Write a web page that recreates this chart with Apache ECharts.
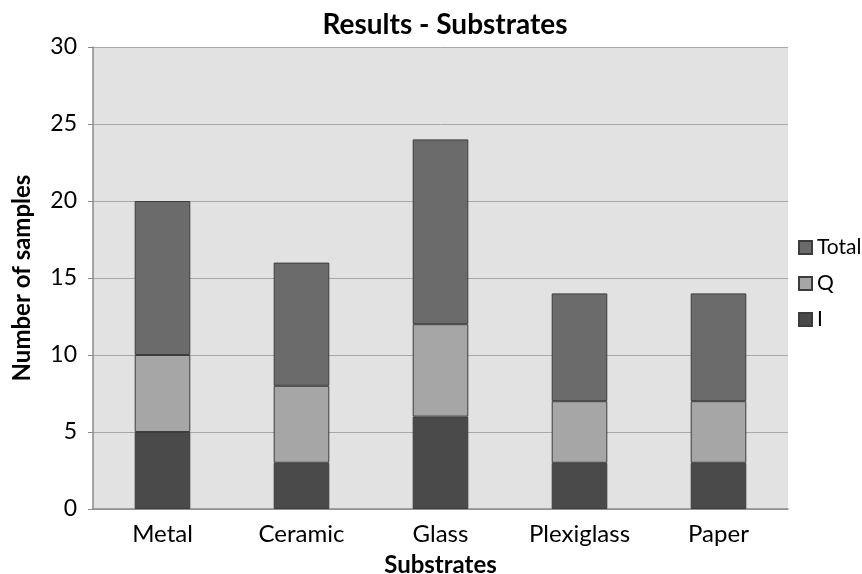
<!DOCTYPE html>
<html>
<head>
<meta charset="utf-8">
<script src="https://cdn.jsdelivr.net/npm/echarts@6/dist/echarts.min.js"></script>
<style>
html, body { margin: 0; padding: 0; background: #fff; }
#chart { width: 862px; height: 574px; }
</style>
</head>
<body>
<div id="chart"></div>
<script>
// data
const categories = ['Metal', 'Ceramic', 'Glass', 'Plexiglass', 'Paper']
const seriesI = [5, 3, 6, 3, 3]
const seriesQ = [5, 5, 6, 4, 4]
const seriesTotal = [10, 8, 12, 7, 7]

const font = 'Lato'
const barBorder = { borderColor: '#3c3c3c', borderWidth: 1 }

const chart = echarts.init(document.getElementById('chart'))
chart.setOption({
  animation: false,
  title: {
    text: 'Results - Substrates',
    left: 440,
    top: 6,
    textAlign: 'center',
    textStyle: { fontFamily: font, fontSize: 28, fontWeight: 'bold', color: '#000' }
  },
  legend: {
    orient: 'vertical',
    left: 793,
    top: 232,
    itemGap: 15,
    itemWidth: 13,
    itemHeight: 13,
    icon: 'rect',
    data: ['Total', 'Q', 'I'],
    textStyle: { fontFamily: font, fontSize: 21, color: '#000', padding: [0, 0, 0, 0] }
  },
  grid: {
    left: 93, right: 74, top: 47, bottom: 65,
    outerBoundsMode: 'none',
    containLabel: false,
    show: true,
    backgroundColor: '#e2e2e2',
    borderWidth: 0
  },
  xAxis: {
    type: 'category',
    data: categories,
    name: 'Substrates',
    nameLocation: 'middle',
    nameGap: 44,
    nameTextStyle: { fontFamily: font, fontSize: 24, fontWeight: 'bold', color: '#000' },
    axisLine: { lineStyle: { color: '#8a8a8a', width: 1.5 } },
    axisTick: { show: false },
    axisLabel: { fontFamily: font, fontSize: 24, color: '#000', margin: 13 }
  },
  yAxis: {
    type: 'value',
    min: 0, max: 30, interval: 5,
    name: 'Number of samples',
    nameLocation: 'middle',
    nameGap: 59,
    nameTextStyle: { fontFamily: font, fontSize: 24, fontWeight: 'bold', color: '#000' },
    axisLine: { show: true, lineStyle: { color: '#8a8a8a', width: 1.5 } },
    axisTick: { show: true, length: 5, inside: false, lineStyle: { color: '#8a8a8a' } },
    axisLabel: { fontFamily: font, fontSize: 23, color: '#000', margin: 16 },
    splitLine: { lineStyle: { color: '#a8a8a8', width: 1 } }
  },
  series: [
    {
      name: 'I', type: 'bar', stack: 's', barWidth: '40%',
      itemStyle: Object.assign({ color: '#4a4a4a' }, barBorder),
      data: seriesI
    },
    {
      name: 'Q', type: 'bar', stack: 's',
      itemStyle: Object.assign({ color: '#a6a6a6' }, barBorder),
      data: seriesQ
    },
    {
      name: 'Total', type: 'bar', stack: 's',
      itemStyle: Object.assign({ color: '#6b6b6b' }, barBorder),
      data: seriesTotal
    }
  ]
})
</script>
</body>
</html>
